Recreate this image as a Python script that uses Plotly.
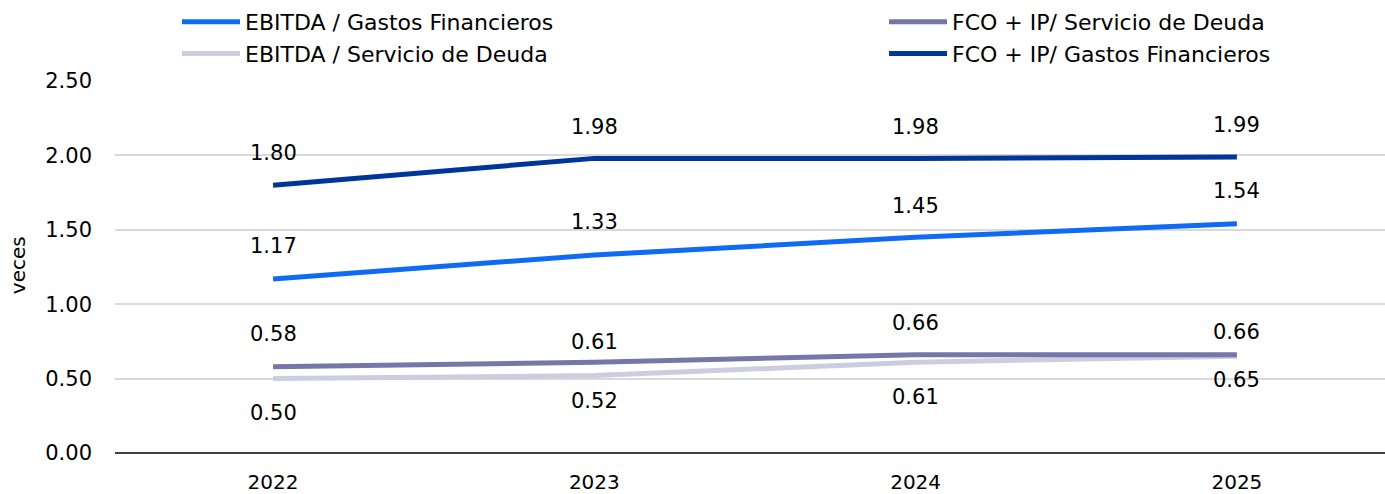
import plotly.graph_objects as go

years = ["2022", "2023", "2024", "2025"]
ebitda_gastos = [1.17, 1.33, 1.45, 1.54]
fco_servicio = [0.58, 0.61, 0.66, 0.66]
ebitda_servicio = [0.50, 0.52, 0.61, 0.65]
fco_gastos = [1.80, 1.98, 1.98, 1.99]

names = {
    "eg": "EBITDA / Gastos Financieros",
    "fs": "FCO + IP/ Servicio de Deuda",
    "es": "EBITDA / Servicio de Deuda",
    "fg": "FCO + IP/ Gastos Financieros",
}
colors = {"eg": "#0F6BF2", "fs": "#7676A8", "es": "#CDCDE0", "fg": "#00359A"}

# label pixel offsets (style only)
off = {
    "eg": [33, 33, 31, 33],
    "fs": [33, 20, 32, 23],
    "es": [-34, -25, -35, -24],
    "fg": [32, 31, 31, 32],
}

series = [("eg", ebitda_gastos, "legend"), ("fs", fco_servicio, "legend2"),
          ("es", ebitda_servicio, "legend"), ("fg", fco_gastos, "legend2")]

FONT = "DejaVu Sans, sans-serif"
fig = go.Figure()
for key, vals, leg in [series[2], series[1], series[0], series[3]]:
    fig.add_trace(go.Scatter(
        x=years, y=vals, mode="lines", name=names[key],
        line=dict(color=colors[key], width=5),
        legend=leg, hoverinfo="skip",
    ))

for key, vals, leg in series:
    for i, v in enumerate(vals):
        fig.add_annotation(
            x=i, y=v, text=f"{v:.2f}", showarrow=False,
            xref="x", yref="y",
            yshift=off[key][i], xanchor="center", yanchor="middle",
            font=dict(family=FONT, size=21, color="#000000"),
        )

# y-axis title
fig.add_annotation(
    x=(18 - 115) / 1270, y=0.505, xref="paper", yref="paper",
    text="veces", textangle=-90, showarrow=False,
    xanchor="center", yanchor="middle",
    font=dict(family=FONT, size=20, color="#000000"),
)

fig.update_layout(
    width=1385, height=494,
    margin=dict(l=115, r=0, t=81, b=41, autoexpand=False),
    paper_bgcolor="white", plot_bgcolor="white",
    font=dict(family=FONT, size=21, color="#000000"),
    legend=dict(
        x=177 / 1385, xref="container", y=0.998, yref="container",
        xanchor="left", yanchor="top", orientation="v",
        traceorder="reversed", itemwidth=58, tracegroupgap=0,
        font=dict(family=FONT, size=22), bgcolor="rgba(0,0,0,0)",
    ),
    legend2=dict(
        x=884 / 1385, xref="container", y=0.998, yref="container",
        xanchor="left", yanchor="top", orientation="v",
        traceorder="normal", itemwidth=58, tracegroupgap=0,
        font=dict(family=FONT, size=22), bgcolor="rgba(0,0,0,0)",
    ),
    showlegend=True,
)

fig.update_xaxes(
    type="category", range=[-0.492, 3.461], automargin=False,
    showgrid=False, showline=False, zeroline=False,
    ticks="outside", ticklen=11, tickcolor="rgba(0,0,0,0)",
    tickfont=dict(family=FONT, size=20, color="#000000"),
)
fig.update_yaxes(
    range=[0, 2.5], tickvals=[0, 0.5, 1.0, 1.5, 2.0, 2.5], tickformat=".2f",
    automargin=False,
    showgrid=True, gridcolor="#D9D9D9", gridwidth=1.5,
    zeroline=True, zerolinecolor="#404040", zerolinewidth=1.5,
    showline=False, ticks="", ticklabelstandoff=22,
    tickfont=dict(family=FONT, size=21, color="#000000"),
)

fig.write_html("out.html", config={"displayModeBar": False},
               post_script="document.body.style.margin='0';")
